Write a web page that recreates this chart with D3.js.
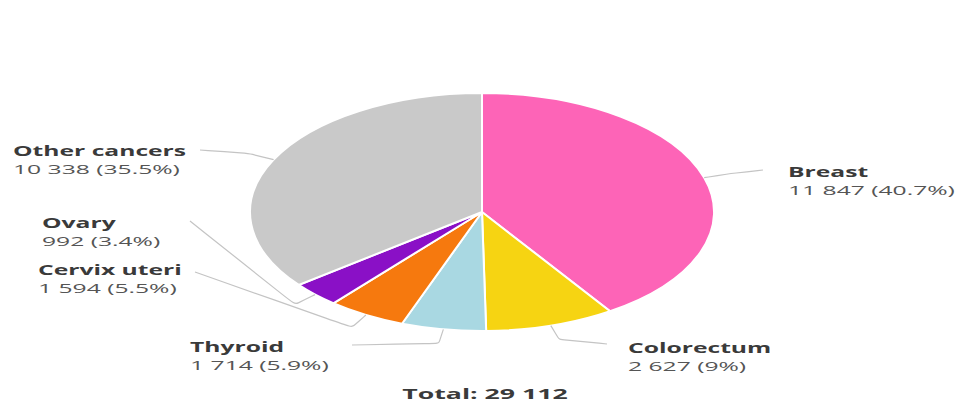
<!DOCTYPE html>
<html>
<head>
<meta charset="utf-8">
<script src="https://cdn.jsdelivr.net/npm/d3@7"></script>
<style>
  html, body { margin: 0; padding: 0; background: #fff; }
  svg { display: block; }
  text { font-family: "Open Sans", "DejaVu Sans", sans-serif; }
</style>
</head>
<body>
<svg id="chart" width="963" height="405"></svg>
<script>
// New cancer cases in women, by site
const categories = ["Breast", "Colorectum", "Thyroid", "Cervix uteri", "Ovary", "Other cancers"];
const cases = [11847, 2627, 1714, 1594, 992, 10338];
const colors = ["#fd64b7", "#f6d412", "#a9d8e2", "#f6790e", "#8a10c6", "#c9c9c9"];

// label placement (anchor of first text line) and leader end points
const labelPos = [
  { x: 788, y: 177, lx: 763, ly: 170 },
  { x: 628, y: 353, lx: 607, ly: 344 },
  { x: 190, y: 352, lx: 352, ly: 345 },
  { x: 38,  y: 275, lx: 195, ly: 272 },
  { x: 42,  y: 228, lx: 190, ly: 221 },
  { x: 13,  y: 156, lx: 200, ly: 150 }
];

const W = 963, H = 405;
const cx = 482, cy = 212, rx = 232, ry = 119;
const textStretch = 1.84;
const fontSize = 13.4;
const lineGap = 18.5;

const locale = d3.formatLocale({ decimal: ".", thousands: " ", grouping: [3], currency: ["", ""] });
const fmtNum = locale.format(",d");
const fmtPct = d3.format(".1~%");
const total = d3.sum(cases);

const data = categories.map((c, i) => ({ name: c, value: cases[i], color: colors[i], pos: labelPos[i] }));

const svg = d3.select("#chart");

const pie = d3.pie().sort(null).value(d => d.value);
const arcs = pie(data);

// pie drawn on a unit circle, then stretched to an ellipse
const arc = d3.arc().innerRadius(0).outerRadius(1);
const pieG = svg.append("g").attr("transform", `translate(${cx},${cy}) scale(${rx},${ry})`);
pieG.selectAll("path")
  .data(arcs)
  .join("path")
  .attr("d", arc)
  .attr("fill", d => d.data.color)
  .attr("stroke", "#fff")
  .attr("stroke-width", 2)
  .attr("vector-effect", "non-scaling-stroke");

// leader lines from slice mid-angle on the rim out to each label
const edge = (a, k) => [cx + rx * k * Math.sin(a), cy - ry * k * Math.cos(a)];
const leader = d3.line().curve(d3.curveBasis);
svg.append("g")
  .selectAll("path")
  .data(arcs)
  .join("path")
  .attr("d", d => {
    const mid = (d.startAngle + d.endAngle) / 2;
    const p0 = edge(mid, 1.0);
    const p1 = edge(mid, 1.12);
    const p2 = [d.data.pos.lx, d.data.pos.ly];
    return leader([p0, p1, p1, p2]);
  })
  .attr("fill", "none")
  .attr("stroke", "#c4c4c4")
  .attr("stroke-width", 1.2);

// labels: bold site name above case count and share
const labels = svg.append("g")
  .selectAll("g")
  .data(arcs)
  .join("g")
  .attr("transform", d => `translate(${d.data.pos.x},${d.data.pos.y}) scale(${textStretch},1)`);

labels.append("text")
  .attr("font-size", fontSize)
  .attr("font-weight", 700)
  .attr("fill", "#3a3a3a")
  .text(d => d.data.name);

labels.append("text")
  .attr("y", lineGap)
  .attr("font-size", fontSize)
  .attr("fill", "#555")
  .text(d => `${fmtNum(d.data.value)} (${fmtPct(d.data.value / total)})`);

svg.append("g")
  .attr("transform", `translate(${cx + 3},399) scale(${textStretch},1)`)
  .append("text")
  .attr("text-anchor", "middle")
  .attr("font-size", 14.5)
  .attr("font-weight", 700)
  .attr("fill", "#3a3a3a")
  .text(`Total: ${fmtNum(total)}`);
</script>
</body>
</html>
